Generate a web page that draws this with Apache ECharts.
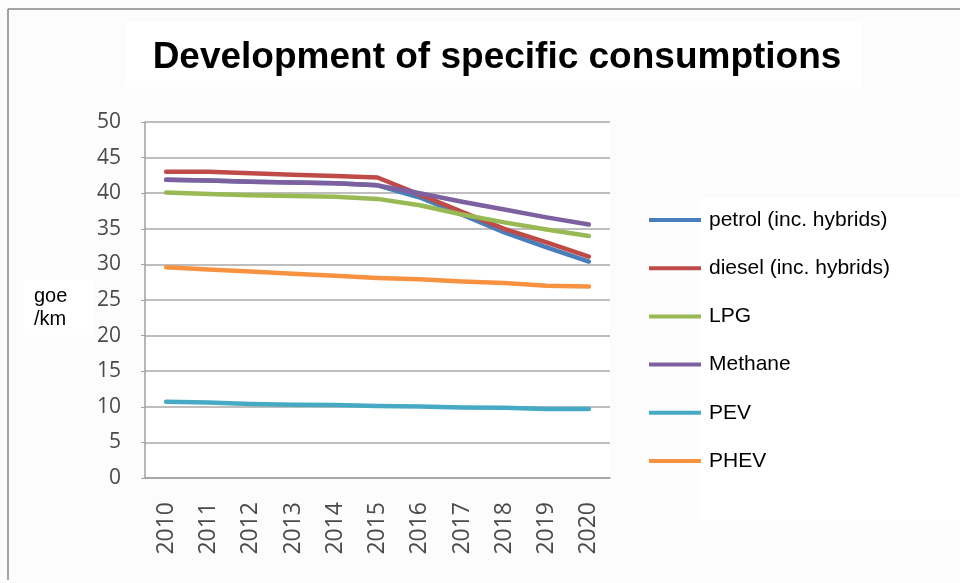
<!DOCTYPE html>
<html>
<head>
<meta charset="utf-8">
<script src="https://cdn.jsdelivr.net/npm/echarts@6/dist/echarts.min.js"></script>
<style>
  html, body { margin: 0; padding: 0; background: #fcfcfc; }
  #chart { width: 960px; height: 583px; }
</style>
</head>
<body>
<div id="chart"></div>
<script>
// Years on the category axis
const years = ['2010', '2011', '2012', '2013', '2014', '2015', '2016', '2017', '2018', '2019', '2020'];

// Specific consumption per fuel type, goe/km
const petrol  = [41.9, 41.8, 41.6, 41.5, 41.4, 41.1, 39.4, 37.0, 34.5, 32.4, 30.4];
const diesel  = [43.0, 43.0, 42.8, 42.6, 42.4, 42.2, 39.8, 37.4, 35.0, 33.1, 31.1];
const lpg     = [40.1, 39.9, 39.7, 39.6, 39.5, 39.2, 38.3, 37.0, 35.9, 34.9, 34.0];
const methane = [41.9, 41.8, 41.6, 41.5, 41.4, 41.1, 40.0, 38.8, 37.7, 36.6, 35.6];
const pev     = [10.7, 10.6, 10.4, 10.3, 10.25, 10.1, 10.05, 9.9, 9.85, 9.7, 9.7];
const phev    = [29.6, 29.3, 29.0, 28.7, 28.4, 28.1, 27.9, 27.6, 27.4, 27.0, 26.9];

const seriesNames = ['petrol (inc. hybrids)', 'diesel (inc. hybrids)', 'LPG', 'Methane', 'PEV', 'PHEV'];
const seriesData = [petrol, diesel, lpg, methane, pev, phev];
const seriesColors = ['#4a7ebb', '#be4b48', '#98b954', '#7d60a0', '#46aac5', '#f69240'];

// Y axis range
const yMin = 0, yMax = 50, yStep = 5;

const chart = echarts.init(document.getElementById('chart'), null, { renderer: 'canvas' });

const option = {
  backgroundColor: '#fcfcfc',
  animation: false,
  graphic: [
    // outer frame (top and left edges)
    { type: 'line', shape: { x1: 8, y1: 9, x2: 960, y2: 9 }, style: { stroke: '#a3a3a3', lineWidth: 2 }, z: -1 },
    { type: 'line', shape: { x1: 8, y1: 9, x2: 8, y2: 580 }, style: { stroke: '#a3a3a3', lineWidth: 2 }, z: -1 },
    // white panels behind title, legend and unit label
    { type: 'rect', shape: { x: 125, y: 22, width: 737, height: 65 }, style: { fill: '#ffffff' }, z: -2 },
    { type: 'rect', shape: { x: 700, y: 198, width: 260, height: 322 }, style: { fill: '#ffffff' }, z: -2 },
    { type: 'rect', shape: { x: 24, y: 280, width: 70, height: 55 }, style: { fill: '#ffffff' }, z: -2 },
    // unit label
    {
      type: 'text', left: 34, top: 285,
      style: { text: 'goe\n/km', font: '20px "Liberation Sans", Arial, sans-serif', fill: '#000', lineHeight: 23 }
    }
  ],
  title: {
    text: 'Development of specific consumptions',
    left: 492,
    top: 34,
    textAlign: 'center',
    textStyle: {
      fontFamily: '"Liberation Sans", Arial, sans-serif',
      fontSize: 37,
      fontWeight: 'bold',
      color: '#000'
    }
  },
  legend: {
    orient: 'vertical',
    left: 649,
    top: 209,
    padding: 0,
    icon: 'rect',
    itemWidth: 52,
    itemHeight: 4,
    itemGap: 26.2,
    data: seriesNames,
    textStyle: {
      fontFamily: '"Liberation Sans", Arial, sans-serif',
      fontSize: 21,
      color: '#000',
      lineHeight: 22,
      padding: [0, 0, 0, 3]
    }
  },
  grid: {
    left: 145,
    right: 350,
    top: 122,
    bottom: 105,
    show: true,
    backgroundColor: '#ffffff',
    borderWidth: 0
  },
  xAxis: {
    type: 'category',
    data: years,
    boundaryGap: true,
    axisLine: { show: true, lineStyle: { color: '#a0a0a0', width: 1.5 } },
    axisTick: { show: false },
    axisLabel: {
      rotate: 90,
      margin: 24,
      fontFamily: '"Open Sans", "Noto Sans", sans-serif',
      fontSize: 23,
      color: '#4a4a4a'
    }
  },
  yAxis: {
    type: 'value',
    min: yMin,
    max: yMax,
    interval: yStep,
    axisLine: { show: true, lineStyle: { color: '#a0a0a0', width: 1.5 } },
    axisTick: { show: true, length: 4, lineStyle: { color: '#a0a0a0' } },
    splitLine: { show: true, lineStyle: { color: '#a8a8a8', width: 1.5 } },
    axisLabel: {
      margin: 24,
      fontFamily: '"Open Sans", "Noto Sans", sans-serif',
      fontSize: 21,
      color: '#4a4a4a'
    }
  },
  series: seriesNames.map((name, i) => ({
    name: name,
    type: 'line',
    data: seriesData[i],
    showSymbol: false,
    symbol: 'none',
    color: seriesColors[i],
    lineStyle: { width: 4.5, color: seriesColors[i], cap: 'round', join: 'round' }
  }))
};

chart.setOption(option);
</script>
</body>
</html>
